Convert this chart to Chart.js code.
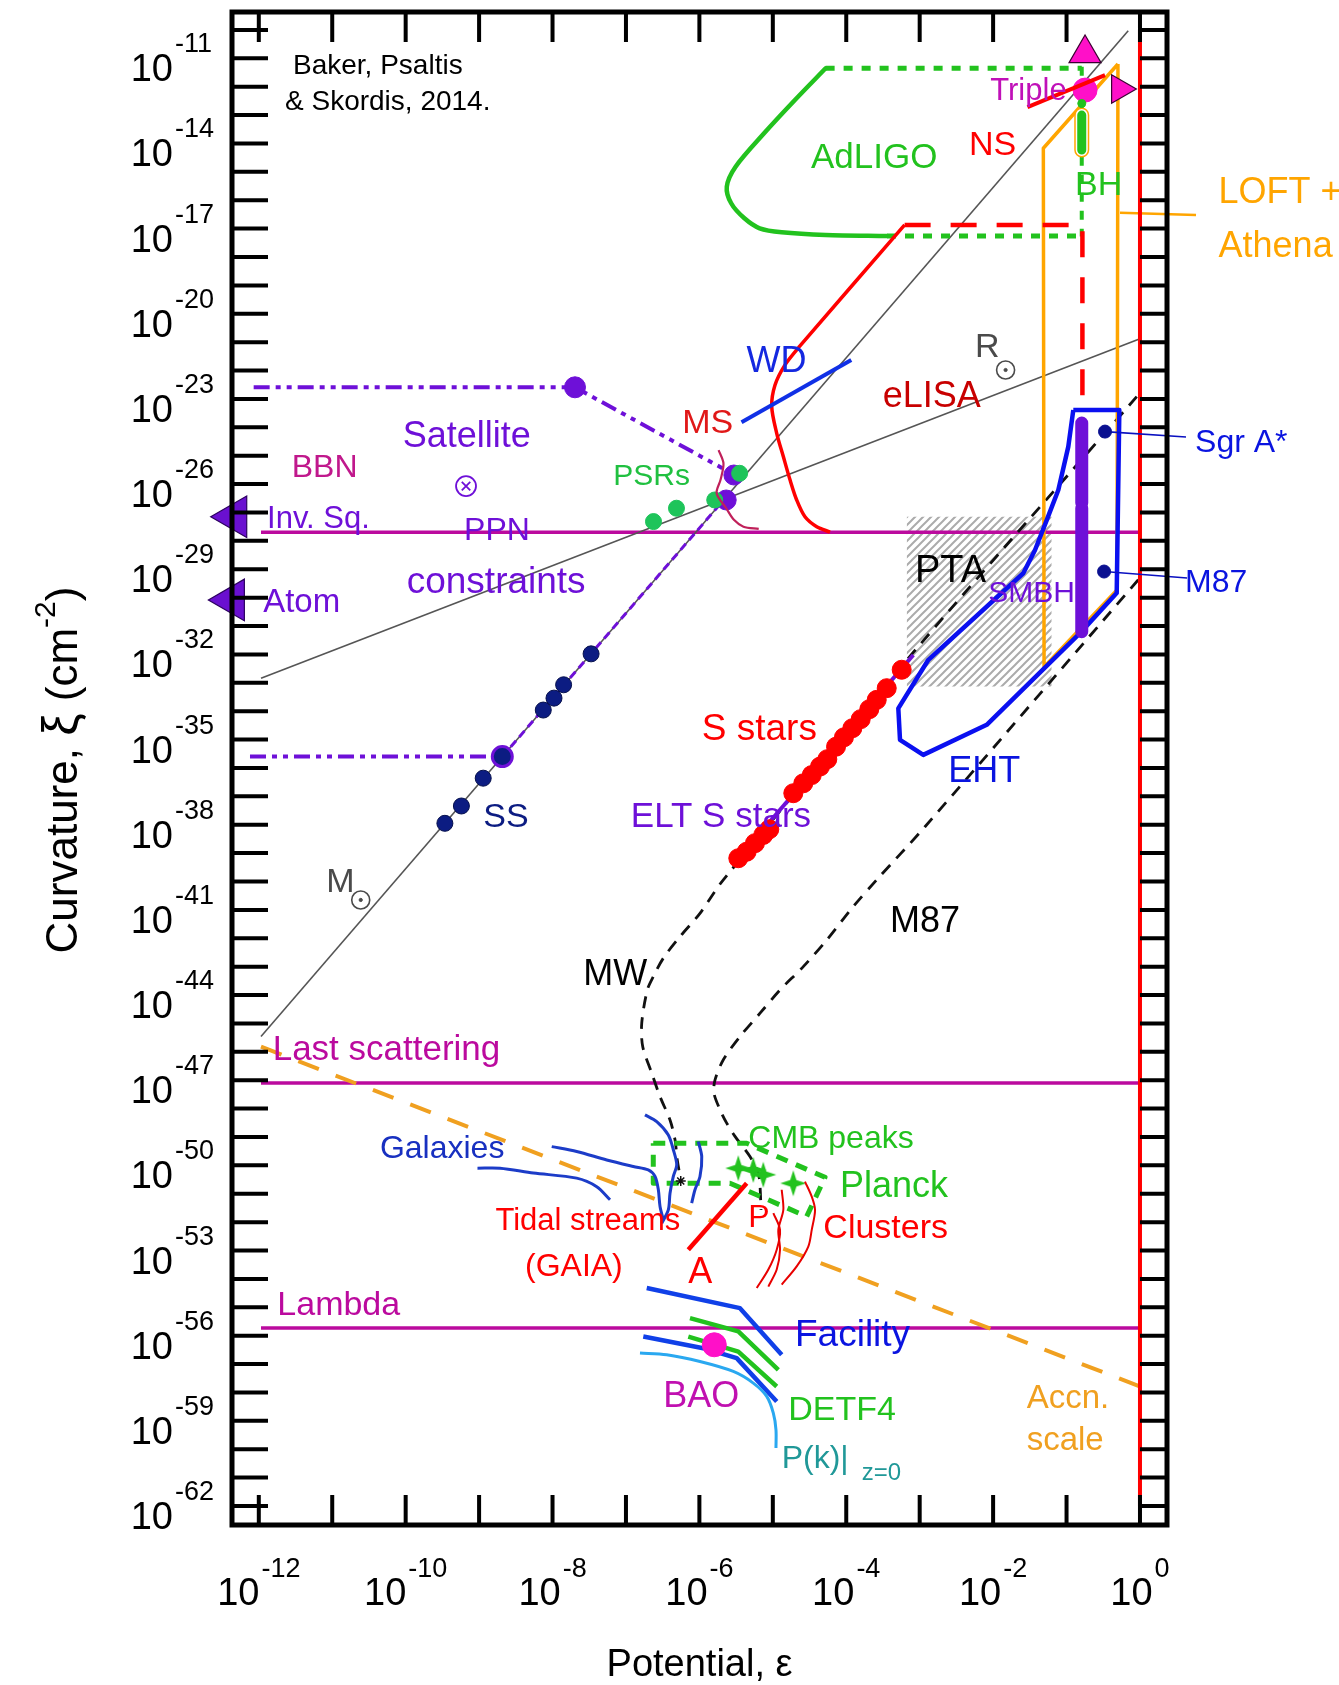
<!DOCTYPE html>
<html>
<head>
<meta charset="utf-8">
<title>Curvature versus potential</title>
<script src="https://cdn.jsdelivr.net/npm/chart.js"></script>
<style>
  html, body { margin: 0; padding: 0; background: #ffffff; }
  #box { position: relative; width: 1339px; height: 1685px; }
</style>
</head>
<body>
<div id="box"><canvas id="chart" width="1339" height="1685"></canvas></div>
<script>
// All coordinates below are [log10(potential), log10(curvature)].

// ---- axes ----
const xRange = [-12.365, 0.368];
const yRange = [-62.669, -9.369];
const xTickExps = [-12, -11, -10, -9, -8, -7, -6, -5, -4, -3, -2, -1, 0];
const xLabelExps = [-12, -10, -8, -6, -4, -2, 0];
const yTickExps = Array.from({ length: 53 }, (_, i) => -10 - i);
const yLabelExps = [-11, -14, -17, -20, -23, -26, -29, -32, -35, -38, -41, -44, -47, -50, -53, -56, -59, -62];

// ---- reference lines ----
const lineMsun = [[-11.97, -45.46], [-0.16, -10.03]];
const lineRsun = [[-11.97, -32.84], [0, -20.88]];
const invSquareLine = [[-11.97, -27.70], [0, -27.70]];
const lastScatteringLine = [[-11.97, -47.10], [0, -47.10]];
const lambdaLine = [[-11.97, -55.73], [0, -55.73]];
const unityPotential = [[0, -10], [0, -62]];
const accnScale = [[-11.97, -45.82], [0, -57.79]];

// ---- solar system and satellites ----
const solarSystem = [[-9.466, -37.95], [-9.241, -37.34], [-8.944, -36.36], [-8.684, -35.60], [-8.126, -33.96], [-7.980, -33.54], [-7.849, -33.07], [-7.475, -31.98]];
const satelliteLow = [[-12.12, -35.60], [-8.684, -35.60]];
const satelliteHigh = [[-12.07, -22.59], [-7.694, -22.59], [-5.687, -25.44]];
const satelliteDot = [[-7.694, -22.59]];
const satelliteTrack = [[-8.684, -35.60], [-5.66, -26.53]];
const satelliteRing = [[-8.684, -35.60]];

// ---- pulsars, main sequence, white dwarfs ----
const pulsars = [[-6.625, -27.32], [-6.312, -26.85], [-5.791, -26.56], [-5.452, -25.62]];
const pulsarPurple = [[-5.530, -25.68], [-5.635, -26.56]];
const mainSequence = [[-5.738, -24.80], [-5.672, -25.27], [-5.712, -25.85], [-5.765, -26.32], [-5.635, -26.85], [-5.530, -27.26], [-5.400, -27.50], [-5.192, -27.58]];
const whiteDwarfs = [[-5.426, -23.82], [-3.932, -21.63]];

// ---- compact objects, gravitational waves ----
const nsElisa = [[-3.205, -16.87], [-4.639, -21.16], [-4.834, -21.80], [-4.970, -22.51], [-5.015, -23.27], [-4.947, -24.21], [-4.857, -25.03], [-4.766, -25.85], [-4.675, -26.56], [-4.562, -27.15], [-4.402, -27.50], [-4.221, -27.69]];
const nsDashed = [[-3.205, -16.87], [-0.784, -16.87], [-0.784, -22.92]];
const adLigo = [[-4.281, -11.352], [-4.699, -12.469], [-5.119, -13.642], [-5.507, -14.818], [-5.627, -15.523], [-5.567, -16.107], [-5.387, -16.636], [-5.179, -16.988], [-4.879, -17.129], [-4.281, -17.224], [-3.445, -17.259]];
const adLigoTop = [[-4.281, -11.352], [-0.793, -11.352]];
const adLigoBottom = [[-3.445, -17.259], [-0.793, -17.259]];
const adLigoSide = [[-0.793, -11.30], [-0.793, -17.28]];
const blackHoleBar = [[-0.793, -13.00], [-0.793, -14.23]];
const tripleLine = [[-1.532, -12.72], [-0.476, -11.59]];
const tripleDot = [[-0.748, -12.12]];
const greenDot = [[-0.793, -12.59]];
const arrowUp = [[-0.748, -10.83]];
const arrowRight = [[-0.274, -12.08]];
const loftAthena = [[-0.30, -11.20], [-1.316, -14.17], [-1.306, -32.44], [-0.313, -29.73], [-0.30, -11.20]];
const loftLeader = [[-0.272, -16.44], [0.763, -16.52]];

// ---- supermassive black holes ----
const ehtRegion = [[-0.908, -23.39], [-0.976, -24.68], [-1.112, -26.21], [-1.270, -27.27], [-1.429, -28.32], [-1.589, -29.14], [-2.882, -32.19], [-3.291, -33.90], [-3.268, -35.01], [-2.951, -35.54], [-2.087, -34.48], [-0.817, -31.25], [-0.317, -29.84], [-0.281, -23.39], [-0.908, -23.39]];
const sgrA = [[-0.476, -24.15]];
const sgrALeader = [[-0.476, -24.15], [0.627, -24.34]];
const m87Dot = [[-0.489, -29.08]];
const m87Leader = [[-0.489, -29.08], [0.641, -29.31]];
const smbhUpper = [[-0.793, -23.85], [-0.793, -26.67]];
const smbhLower = [[-0.793, -26.85], [-0.793, -31.20]];
const ptaTop = [[-3.177, -27.15], [-1.202, -27.15]];
const ptaBottom = -33.13;
const sStars = [[-5.470, -39.18], [-5.356, -38.95], [-5.243, -38.65], [-5.130, -38.36], [-5.048, -38.16], [-4.721, -36.89], [-4.585, -36.54], [-4.470, -36.25], [-4.357, -35.95], [-4.258, -35.69], [-4.139, -35.25], [-4.031, -34.92], [-3.917, -34.60], [-3.803, -34.28], [-3.686, -33.93], [-3.585, -33.60], [-3.449, -33.19], [-3.245, -32.54]];
const eltSStars = [[-5.47, -39.18], [-3.087, -32.02]];
const mwProfile = [[-0.044, -22.92], [-3.091, -31.94], [-5.674, -39.94], [-5.992, -41.12], [-6.264, -41.94], [-6.491, -42.70], [-6.628, -43.35], [-6.709, -43.82], [-6.785, -44.99], [-6.772, -45.81], [-6.649, -46.75], [-6.536, -47.58], [-6.400, -48.40], [-6.332, -49.10], [-6.301, -49.81], [-6.254, -50.51]];
const m87Profile = [[-0.023, -29.37], [-2.928, -38.07], [-3.585, -39.94], [-3.904, -40.88], [-4.266, -42.06], [-4.585, -43.00], [-4.902, -43.82], [-5.174, -44.64], [-5.447, -45.46], [-5.674, -46.28], [-5.787, -46.99], [-5.801, -47.46], [-5.719, -48.04], [-5.628, -48.51], [-5.515, -48.98], [-5.311, -49.69], [-5.198, -50.27], [-5.174, -50.75], [-5.161, -51.57]];

// ---- point-like constraint markers ----
const invSqArrow = [[-12.328, -27.15]];
const atomArrow = [[-12.36, -30.08]];
const rSun = [[-1.830, -21.98]];
const mSun = [[-10.612, -40.65]];
const ppnMark = [[-9.178, -26.07]];

// ---- cosmology ----
const cmbBox = [[-6.628, -49.22], [-5.356, -49.22], [-4.289, -50.42], [-4.539, -51.80], [-5.583, -50.63], [-6.628, -50.63], [-6.628, -49.22]];
const planckPeaks = [[-5.470, -50.10], [-5.266, -50.16], [-5.130, -50.33], [-4.721, -50.63]];
const mwEnd = [[-6.254, -50.55]];
const galaxiesA = [[-6.741, -48.22], [-6.581, -48.46], [-6.423, -48.93], [-6.355, -49.45], [-6.309, -49.98], [-6.355, -50.39], [-6.400, -50.98], [-6.423, -51.57], [-6.513, -52.04]];
const galaxiesB = [[-6.015, -49.16], [-5.968, -49.69], [-5.992, -50.39], [-6.060, -50.86], [-6.105, -51.33]];
const galaxiesC = [[-8.011, -49.34], [-7.671, -49.51], [-7.262, -49.81], [-6.900, -50.04], [-6.696, -50.16], [-6.604, -50.39], [-6.559, -50.86], [-6.536, -51.45], [-6.491, -51.92]];
const galaxiesD = [[-9.022, -50.10], [-8.715, -50.10], [-8.262, -50.27], [-7.671, -50.45], [-7.398, -50.75], [-7.217, -51.21]];
const tidalA = [[-5.356, -50.63], [-6.151, -52.97]];
const clustersA = [[-4.993, -51.68], [-4.902, -52.27], [-4.947, -52.97], [-5.061, -53.67], [-5.219, -54.32]];
const clustersB = [[-4.879, -50.86], [-4.857, -51.57], [-4.925, -52.27], [-4.902, -52.97], [-4.947, -53.67], [-5.061, -54.27]];
const clustersC = [[-4.562, -50.57], [-4.470, -51.10], [-4.425, -51.57], [-4.470, -52.27], [-4.517, -52.86], [-4.675, -53.56], [-4.879, -54.20]];
const facilityA = [[-6.717, -54.32], [-5.447, -55.03], [-4.879, -56.67]];
const facilityB = [[-6.764, -56.03], [-5.947, -56.44], [-5.492, -56.79], [-4.947, -58.32]];
const detf4A = [[-6.128, -55.38], [-5.470, -55.85], [-4.925, -57.20]];
const detf4B = [[-6.151, -56.03], [-5.470, -56.56], [-4.947, -57.79]];
const powerSpectrum = [[-6.809, -56.61], [-6.445, -56.67], [-5.992, -56.91], [-5.538, -57.26], [-5.266, -57.67], [-5.083, -58.14], [-4.993, -58.73], [-4.957, -59.32], [-4.957, -59.96]];
const bao = [[-5.797, -56.32]];

// ---- text labels: [text, log eps, log xi (baseline), size, colour] ----
const COL = {
  magenta: '#BB0A9E', purple: '#6E10D8', green: '#22C21E', psr: '#1EC45A', red: '#FF0000',
  navy: '#0C1C82', blue: '#0A14E0', orange: '#FFA500', accn: '#F0A020', gray: '#4A4A4A', pink: '#FF10C8'
};
const labels = [
  ['Baker, Psaltis', -11.534, -11.553, 28, '#000'],
  ['& Skordis, 2014.', -11.643, -12.821, 28, '#000'],
  ['AdLIGO', -4.480, -14.864, 35, COL.green],
  ['NS', -2.328, -14.406, 34, COL.red],
  ['Triple', -2.039, -12.469, 31, '#C010B8'],
  ['BH', -0.885, -15.815, 34, COL.green],
  ['LOFT +', 1.070, -16.097, 36, COL.orange],
  ['Athena', 1.070, -18.00, 36, COL.orange],
  ['WD', -5.357, -22.05, 36, '#1428E0'],
  ['R', -2.248, -21.52, 34, COL.gray],
  ['eLISA', -3.503, -23.28, 36, '#C80000'],
  ['MS', -6.234, -24.20, 34, '#E01818'],
  ['Satellite', -10.039, -24.68, 36, COL.purple],
  ['BBN', -11.551, -25.74, 32, '#C0188C'],
  ['PSRs', -7.172, -26.03, 30, '#20C040'],
  ['Inv. Sq.', -11.888, -27.54, 31, COL.purple],
  ['PPN', -9.205, -27.97, 32, COL.purple],
  ['constraints', -9.986, -29.83, 37, COL.purple],
  ['Atom', -11.941, -30.50, 33, COL.purple],
  ['SS', -8.944, -38.08, 34, COL.navy],
  ['M', -11.081, -40.37, 34, COL.gray],
  ['S stars', -5.968, -35.01, 37, COL.red],
  ['ELT S stars', -6.934, -38.07, 35, COL.purple],
  ['PTA', -3.064, -29.45, 38, '#000'],
  ['SMBH', -2.065, -30.14, 30, COL.purple],
  ['EHT', -2.610, -36.49, 36, COL.blue],
  ['Sgr A*', 0.750, -24.87, 32, COL.blue],
  ['M87', 0.613, -29.80, 32, COL.blue],
  ['M87', -3.404, -41.78, 36, '#000'],
  ['MW', -7.581, -43.64, 36, '#000'],
  ['Last scattering', -11.811, -46.28, 35, COL.magenta],
  ['Galaxies', -10.351, -49.74, 32, '#1830C0'],
  ['CMB peaks', -5.334, -49.38, 32, COL.green],
  ['Planck', -4.085, -51.10, 36, COL.green],
  ['Tidal streams', -8.778, -52.27, 31, COL.red],
  ['(GAIA)', -8.375, -53.89, 32, COL.red],
  ['P', -5.334, -52.16, 32, COL.red],
  ['Clusters', -4.312, -52.55, 34, COL.red],
  ['A', -6.151, -54.14, 36, COL.red],
  ['Lambda', -11.748, -55.28, 34, COL.magenta],
  ['Facility', -4.698, -56.36, 37, COL.blue],
  ['BAO', -6.491, -58.51, 36, '#C010B0'],
  ['DETF4', -4.789, -58.96, 34, COL.green],
  ['P(k)|', -4.879, -60.65, 32, '#209898'],
  ['z=0', -3.789, -61.08, 24, '#209898'],
  ['Accn.', -1.543, -58.54, 33, COL.accn],
  ['scale', -1.543, -60.02, 33, COL.accn]
];

const FONT = '"Liberation Sans", Arial, sans-serif';
const toXY = arr => arr.map(([e, k]) => ({ x: Math.pow(10, e), y: Math.pow(10, k) }));

// ---- dataset builders (array order = painting order) ----
const datasets = [];
function path(data, color, width, extra) {
  datasets.push(Object.assign({
    data: toXY(data), borderColor: color, borderWidth: width, pointRadius: 0,
    fill: false, tension: 0, borderCapStyle: 'butt', borderJoinStyle: 'round'
  }, extra || {}));
}
function marks(data, fill, r, extra) {
  datasets.push(Object.assign({
    data: toXY(data), showLine: false, pointRadius: r, pointHoverRadius: r,
    pointBackgroundColor: fill, pointBorderColor: fill, pointBorderWidth: 1, borderColor: fill
  }, extra || {}));
}

function hatchPattern() {
  const tile = document.createElement('canvas');
  tile.width = 8; tile.height = 8;
  const g = tile.getContext('2d');
  g.strokeStyle = '#ababab'; g.lineWidth = 2;
  g.beginPath();
  g.moveTo(-1, 9); g.lineTo(9, -1);
  g.moveTo(-3, 3); g.lineTo(3, -3);
  g.moveTo(5, 11); g.lineTo(11, 5);
  g.stroke();
  return document.createElement('canvas').getContext('2d').createPattern(tile, 'repeat');
}
function fourPointStar(r, color) {
  const c = document.createElement('canvas');
  c.width = c.height = 2 * r + 2;
  const g = c.getContext('2d');
  g.translate(r + 1, r + 1);
  g.fillStyle = color;
  g.beginPath();
  for (let i = 0; i < 8; i++) {
    const a = i * Math.PI / 4 - Math.PI / 2;
    const rr = i % 2 === 0 ? r : r * 0.34;
    g.lineTo(Math.cos(a) * rr, Math.sin(a) * rr);
  }
  g.closePath(); g.fill();
  return c;
}

const dashDotDot = [16, 6, 5, 6, 5, 6];

// PTA band
path(ptaTop, 'rgba(0,0,0,0)', 0, { fill: { value: Math.pow(10, ptaBottom) }, backgroundColor: hatchPattern() });
// horizontal reference levels
path(invSquareLine, COL.magenta, 3.5);
path(lastScatteringLine, COL.magenta, 3.5);
path(lambdaLine, COL.magenta, 3.5);
// fixed-mass and fixed-radius lines
path(lineMsun, '#555555', 1.6);
path(lineRsun, '#555555', 1.6);
// acceleration scale
path(accnScale, COL.accn, 4, { borderDash: [22, 18] });
// galaxy potential profiles
path(mwProfile, '#111111', 2.8, { borderDash: [12, 9], tension: 0.3 });
path(m87Profile, '#111111', 2.8, { borderDash: [12, 9], tension: 0.3 });
// X-ray timing region
path(loftAthena, COL.orange, 3.5);
path(loftLeader, COL.orange, 2.5, { clip: false });
// gravitational-wave detectors and compact objects
path(adLigo, COL.green, 4.5, { tension: 0.3, borderCapStyle: 'round' });
path(adLigoTop, COL.green, 5, { borderDash: [9, 9] });
path(adLigoBottom, COL.green, 5, { borderDash: [9, 9] });
path(adLigoSide, COL.green, 4, { borderDash: [9, 9] });
path(nsElisa, COL.red, 3.5, { tension: 0.3 });
path(nsDashed, COL.red, 4.5, { borderDash: [26, 20] });
path(blackHoleBar, COL.orange, 15, { borderCapStyle: 'round' });
path(blackHoleBar, '#ffffff', 12, { borderCapStyle: 'round' });
path(blackHoleBar, COL.green, 9, { borderCapStyle: 'round' });
path(unityPotential, COL.red, 4);
// supermassive black holes
path(ehtRegion, '#0A10F0', 4.5);
path(smbhUpper, COL.purple, 13, { borderCapStyle: 'round' });
path(smbhLower, COL.purple, 13, { borderCapStyle: 'round' });
path(sgrALeader, '#0A10C0', 1.6, { clip: false });
path(m87Leader, '#0A10C0', 1.6, { clip: false });
marks(sgrA, '#0A1090', 6.5);
marks(m87Dot, '#0A1090', 6.5);
path(eltSStars, COL.purple, 4);
marks(sStars, COL.red, 9.5);
path(whiteDwarfs, '#1030E6', 4);
// satellite constraints
path(satelliteHigh, COL.purple, 4, { borderDash: dashDotDot });
path(satelliteLow, COL.purple, 4, { borderDash: dashDotDot });
path(satelliteTrack, COL.purple, 3, { borderDash: [8, 5] });
marks(satelliteDot, COL.purple, 10.5);
marks(pulsarPurple, COL.purple, 10);
marks(solarSystem, COL.navy, 8, { pointBorderColor: '#06104C' });
marks(satelliteRing, COL.navy, 10, { pointBorderColor: COL.purple, pointBorderWidth: 3 });
marks(pulsars, COL.psr, 8);
path(mainSequence, '#C0205A', 2.2, { tension: 0.3 });
// triple system, arrows
marks(tripleDot, COL.pink, 12);
path(tripleLine, COL.red, 4);
marks(greenDot, COL.green, 4);
marks(arrowUp, COL.pink, 18.5, { pointStyle: 'triangle', pointBorderColor: '#3a0030', pointBorderWidth: 1.2 });
marks(arrowRight, COL.pink, 16.5, { pointStyle: 'triangle', pointRotation: 90, pointBorderColor: '#3a0030', pointBorderWidth: 1.2, clip: false });
marks(invSqArrow, '#6A10D0', 24, { pointStyle: 'triangle', pointRotation: -90, pointBorderColor: '#2c0060', pointBorderWidth: 1.2, clip: false });
marks(atomArrow, '#6A10D0', 24, { pointStyle: 'triangle', pointRotation: -90, pointBorderColor: '#2c0060', pointBorderWidth: 1.2, clip: false });
// solar symbols and PPN mark
marks(rSun, '#ffffff', 9, { pointBorderColor: COL.gray, pointBorderWidth: 1.6 });
marks(rSun, COL.gray, 1.6);
marks(mSun, '#ffffff', 9, { pointBorderColor: COL.gray, pointBorderWidth: 1.6 });
marks(mSun, COL.gray, 1.6);
marks(ppnMark, '#ffffff', 10, { pointBorderColor: COL.purple, pointBorderWidth: 1.8 });
marks(ppnMark, COL.purple, 6, { pointStyle: 'crossRot', pointBorderWidth: 1.8 });
// cosmology
path(cmbBox, COL.green, 5, { borderDash: [12, 9] });
path(galaxiesA, '#1C3CC8', 3, { tension: 0.3 });
path(galaxiesB, '#1C3CC8', 3, { tension: 0.3 });
path(galaxiesC, '#1C3CC8', 3, { tension: 0.3 });
path(galaxiesD, '#1C3CC8', 3, { tension: 0.3 });
marks(planckPeaks, COL.green, 13, { pointStyle: fourPointStar(13, COL.green) });
marks(mwEnd, '#111111', 5, { pointStyle: 'star', pointBorderWidth: 1.5 });
path(tidalA, COL.red, 4.5);
path(clustersA, '#E80000', 2, { tension: 0.3 });
path(clustersB, '#E80000', 2, { tension: 0.3 });
path(clustersC, '#E80000', 2, { tension: 0.3 });
path(facilityA, '#1040E8', 4.5);
path(facilityB, '#1040E8', 4.5);
path(detf4A, COL.green, 4.5);
path(detf4B, COL.green, 4.5);
path(powerSpectrum, '#2AA8F0', 3, { tension: 0.3 });
marks(bao, COL.pink, 12);

datasets.forEach((d, i) => { d.order = -i; });

// ---- frame, ticks, tick labels, titles and annotations ----
const decor = {
  id: 'decor',
  beforeDraw(chart) {
    const { ctx, width, height } = chart;
    ctx.save(); ctx.fillStyle = '#ffffff'; ctx.fillRect(0, 0, width, height); ctx.restore();
  },
  afterDatasetsDraw(chart) {
    const { ctx, chartArea: a, scales: { x, y } } = chart;
    const px = e => x.getPixelForValue(Math.pow(10, e));
    const py = e => y.getPixelForValue(Math.pow(10, e));
    ctx.save();
    ctx.textBaseline = 'alphabetic';

    // annotations
    labels.forEach(([t, ex, ey, size, color]) => {
      ctx.font = `${size}px ${FONT}`;
      ctx.fillStyle = color;
      ctx.textAlign = 'left';
      ctx.fillText(t, px(ex), py(ey));
    });

    // frame
    ctx.strokeStyle = '#000'; ctx.lineWidth = 5;
    ctx.strokeRect(a.left, a.top, a.right - a.left, a.bottom - a.top);

    // ticks
    ctx.lineWidth = 4; ctx.lineCap = 'butt';
    ctx.beginPath();
    const xEdge = px(0);
    yTickExps.forEach(e => {
      const v = py(e);
      ctx.moveTo(a.left, v); ctx.lineTo(a.left + 36, v);
      ctx.moveTo(xEdge, v); ctx.lineTo(a.right, v);
    });
    xTickExps.forEach(e => {
      const h = px(e);
      ctx.moveTo(h, a.top); ctx.lineTo(h, a.top + 30);
      ctx.moveTo(h, a.bottom); ctx.lineTo(h, a.bottom - 30);
    });
    ctx.stroke();

    // y tick labels
    ctx.fillStyle = '#000';
    yLabelExps.forEach(e => {
      const v = py(e);
      ctx.font = `38px ${FONT}`; ctx.textAlign = 'right';
      ctx.fillText('10', a.left - 59, v + 23);
      ctx.font = `27px ${FONT}`; ctx.textAlign = 'left';
      ctx.fillText(String(e), a.left - 57, v - 6);
    });
    // x tick labels
    xLabelExps.forEach(e => {
      const h = px(e);
      ctx.font = `38px ${FONT}`;
      const w10 = ctx.measureText('10').width;
      ctx.font = `27px ${FONT}`;
      const wE = ctx.measureText(String(e)).width;
      const start = h - (w10 + wE + 2) / 2;
      ctx.textAlign = 'left';
      ctx.font = `38px ${FONT}`;
      ctx.fillText('10', start, a.bottom + 80);
      ctx.font = `27px ${FONT}`;
      ctx.fillText(String(e), start + w10 + 2, a.bottom + 52);
    });

    // x title
    ctx.font = `38px ${FONT}`; ctx.textAlign = 'center';
    ctx.fillText('Potential, \u03B5', (a.left + a.right) / 2, a.bottom + 151);

    // y title (rotated)
    ctx.translate(77, 770);
    ctx.rotate(-Math.PI / 2);
    const parts = [['Curvature, ', 44, 0], ['\u03BE', 50, 0], [' (cm', 44, 0], ['-2', 30, -22], [')', 44, 0]];
    let total = 0;
    parts.forEach(([t, s]) => { ctx.font = `${s}px ${FONT}`; total += ctx.measureText(t).width; });
    let cx = -total / 2;
    ctx.textAlign = 'left';
    parts.forEach(([t, s, dy]) => {
      ctx.font = `${s}px ${FONT}`;
      ctx.fillText(t, cx, dy);
      cx += ctx.measureText(t).width;
    });
    ctx.restore();
  }
};

new Chart(document.getElementById('chart'), {
  type: 'line',
  data: { datasets },
  options: {
    responsive: false,
    animation: false,
    devicePixelRatio: 1,
    events: [],
    layout: { autoPadding: false, padding: { left: 232, right: 172, top: 12, bottom: 160 } },
    scales: {
      x: { type: 'logarithmic', min: Math.pow(10, xRange[0]), max: Math.pow(10, xRange[1]), bounds: 'data', display: false },
      y: { type: 'logarithmic', min: Math.pow(10, yRange[0]), max: Math.pow(10, yRange[1]), bounds: 'data', display: false }
    },
    plugins: { legend: { display: false }, tooltip: { enabled: false }, title: { display: false } }
  },
  plugins: [decor]
});
</script>
</body>
</html>
